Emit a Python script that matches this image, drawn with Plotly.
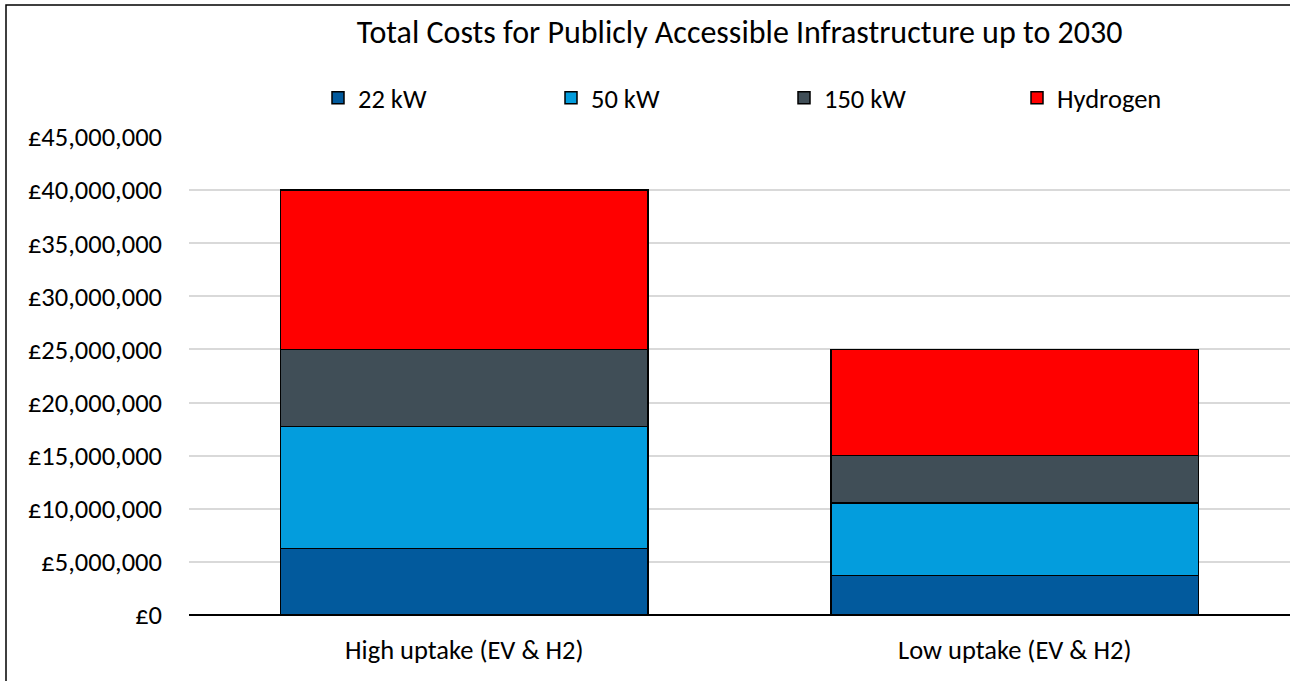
import plotly.graph_objects as go

categories = ["High uptake (EV & H2)", "Low uptake (EV & H2)"]
series_names = ["22 kW", "50 kW", "150 kW", "Hydrogen"]
kw22 = [6260000, 3720000]
kw50 = [11470000, 6810000]
kw150 = [7270000, 4470000]
hydrogen = [15000000, 10000000]
colors = ["#025A9D", "#039DDD", "#404E57", "#FF0000"]
tick_vals = [0, 5e6, 10e6, 15e6, 20e6, 25e6, 30e6, 35e6, 40e6, 45e6]
tick_text = ["£0", "£5,000,000", "£10,000,000", "£15,000,000", "£20,000,000",
             "£25,000,000", "£30,000,000", "£35,000,000", "£40,000,000", "£45,000,000"]

FONT = "Carlito, Calibri, Lato, 'Open Sans', sans-serif"
FS = 26.5

fig = go.Figure()
for name, vals, col in zip(series_names, [kw22, kw50, kw150, hydrogen], colors):
    fig.add_trace(go.Bar(x=categories, y=vals, name=name,
                         marker=dict(color=col, line=dict(color="black", width=1.5))))

W, H = 1290, 681
L, R, T, B = 189, 0, 137, 66
pw, ph = W - L - R, H - T - B

def px_x(p):
    return (p - L) / pw

def px_y(p):
    return (H - B - p) / ph

fig.update_layout(
    width=W, height=H,
    barmode="stack", bargap=0.332,
    margin=dict(l=L, r=R, t=T, b=B, pad=0),
    paper_bgcolor="white", plot_bgcolor="white",
    font=dict(family=FONT, size=FS, color="black"),
    title=dict(text="Total Costs for Publicly Accessible Infrastructure up to 2030",
               x=0.5, xref="paper", xanchor="center",
               y=1 - 32 / H, yanchor="middle", font=dict(size=32, family=FONT)),
    legend=dict(orientation="h", x=px_x(318), xanchor="left", y=px_y(98), yanchor="middle",
                entrywidth=188, entrywidthmode="pixels", traceorder="normal",
                font=dict(size=FS, family=FONT), itemwidth=30, bgcolor="rgba(0,0,0,0)"),
    xaxis=dict(showgrid=False, showline=False, ticks="", tickfont=dict(size=FS),
               ticklabelstandoff=16),
    yaxis=dict(range=[0, 45e6], tickvals=tick_vals, ticktext=tick_text,
               showgrid=True, gridcolor="#D9D9D9", gridwidth=1.5,
               zeroline=True, zerolinecolor="black", zerolinewidth=2,
               showline=False, ticks="", tickfont=dict(size=FS), ticklabelstandoff=26),
    shapes=[dict(type="rect", xref="paper", yref="paper",
                 x0=px_x(6), x1=px_x(1300), y0=px_y(700), y1=px_y(5),
                 line=dict(color="black", width=1.5), fillcolor="rgba(0,0,0,0)", layer="above")],
)

fig.write_html("out.html", config={"displayModeBar": False},
               post_script="document.body.style.margin='0';document.body.style.overflow='hidden';")
